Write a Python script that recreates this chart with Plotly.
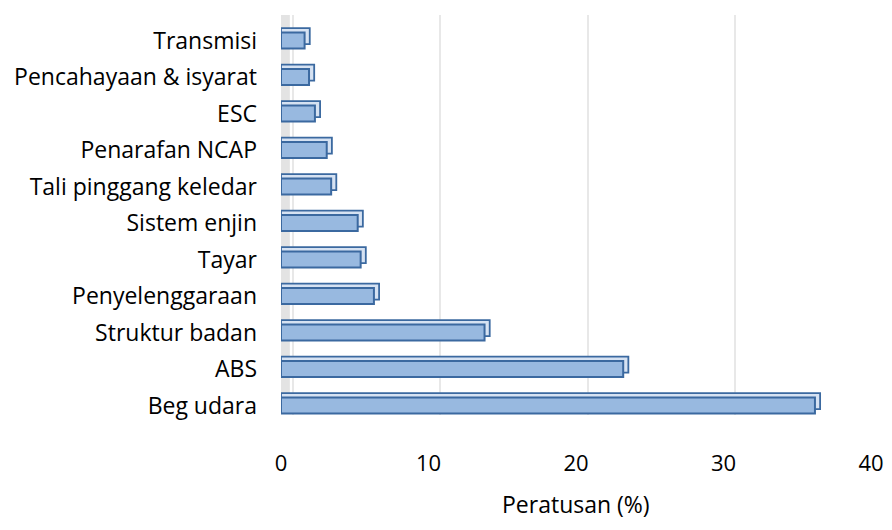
import plotly.graph_objects as go

# data (bottom to top)
kategori = ['Beg udara', 'ABS', 'Struktur badan', 'Penyelenggaraan', 'Tayar',
            'Sistem enjin', 'Tali pinggang keledar', 'Penarafan NCAP', 'ESC',
            'Pencahayaan & isyarat', 'Transmisi']
peratus = [36.2, 23.2, 13.8, 6.3, 5.4, 5.2, 3.4, 3.1, 2.3, 1.9, 1.6]
xticks = [0, 10, 20, 30, 40]

pos = list(range(len(kategori)))
depth = 0.35  # pseudo 3D depth in x units

fig = go.Figure()

# back/top face of the 3D bars
fig.add_trace(go.Bar(
    y=pos, x=[v + depth for v in peratus], base=0,
    orientation='h', width=0.44, offset=-0.1,
    marker=dict(color='#d6e2f2', line=dict(color='#3b69a0', width=1.8)),
    hoverinfo='skip', showlegend=False
))
# front face
fig.add_trace(go.Bar(
    y=pos, x=peratus, base=0,
    orientation='h', width=0.44,
    marker=dict(color='#98b9e0', line=dict(color='#3b69a0', width=2)),
    showlegend=False
))

# faint grid on the back wall (slightly shifted right like the 3D chart)
fig.add_trace(go.Scatter(x=[None], y=[None], xaxis='x2', showlegend=False))

fig.update_layout(
    width=876, height=514,
    margin=dict(l=273, r=13, t=7, b=107),
    paper_bgcolor='white', plot_bgcolor='white',
    barmode='overlay',
    font=dict(family='Open Sans, Lato, sans-serif', size=22, color='#000000'),
    xaxis=dict(
        range=[0, 40], tickvals=xticks, showgrid=False, zeroline=False,
        showline=False, ticks='', ticklabelstandoff=33, automargin=False,
    ),
    xaxis2=dict(
        overlaying='x', range=[-0.8, 39.2], tickvals=xticks, showticklabels=False,
        showgrid=True, gridcolor='#e8e8e8', gridwidth=1.5, zeroline=False,
        automargin=False,
    ),
    yaxis=dict(
        range=[-0.26, 10.7], tickvals=pos, ticktext=kategori,
        showgrid=False, zeroline=False, showline=False, ticks='',
        ticklabelstandoff=23, automargin=False, tickfont=dict(size=23),
    ),
    shapes=[dict(type='rect', xref='x', yref='paper', x0=0, x1=0.6, y0=0.03, y1=1,
                 fillcolor='#e3e3e3', line=dict(width=0), layer='below')],
    annotations=[dict(text='Peratusan (%)', xref='paper', yref='paper', x=0.5, y=-0.222,
                      xanchor='center', yanchor='middle', showarrow=False,
                      font=dict(size=23))],
)

fig.write_html("out.html")
